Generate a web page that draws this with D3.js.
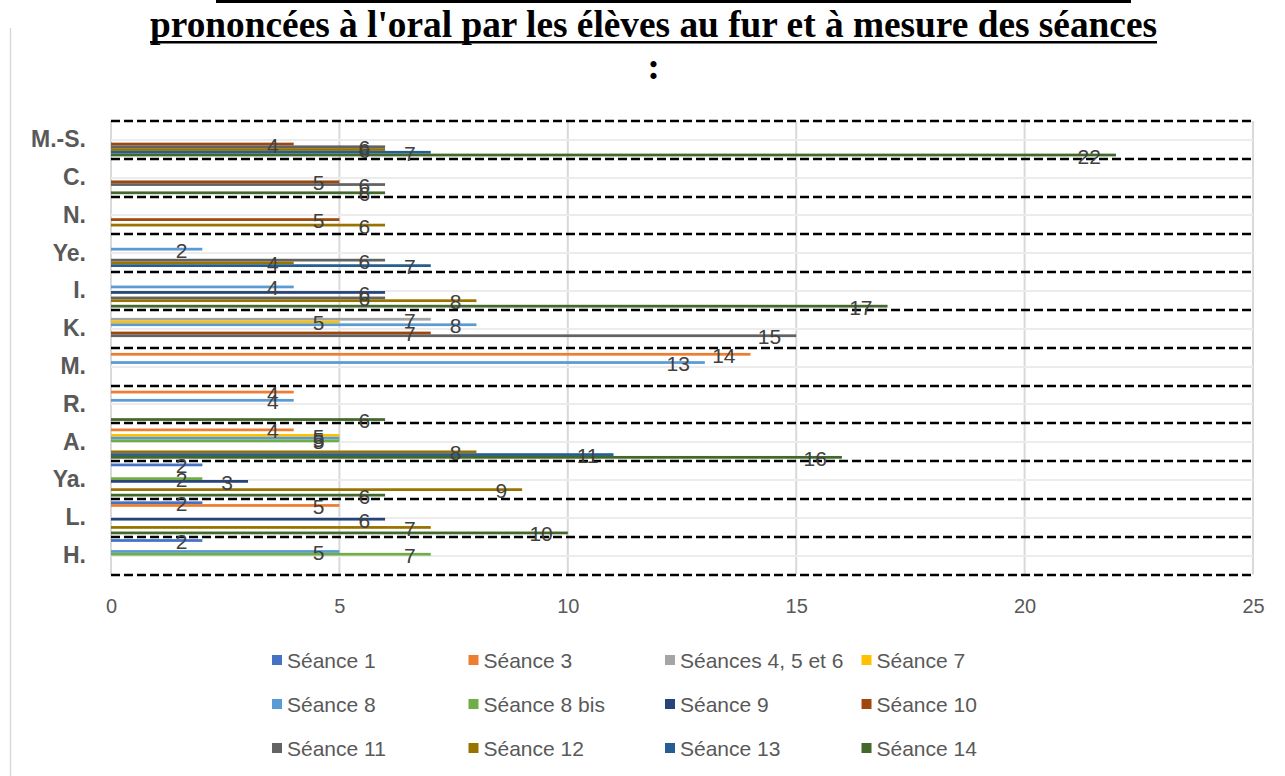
<!DOCTYPE html>
<html>
<head>
<meta charset="utf-8">
<script src="https://cdn.jsdelivr.net/npm/d3@7"></script>
<style>
  html, body { margin: 0; padding: 0; background: #ffffff; }
  svg { display: block; }
</style>
</head>
<body>
<script>
// ---------------- DATA ----------------
const titleText = "prononcées à l'oral par les élèves au fur et à mesure des séances";
const categories = ["M.-S.", "C.", "N.", "Ye.", "I.", "K.", "M.", "R.", "A.", "Ya.", "L.", "H."];
const seriesNames = ["Séance 1", "Séance 3", "Séances 4, 5 et 6", "Séance 7", "Séance 8", "Séance 8 bis",
                     "Séance 9", "Séance 10", "Séance 11", "Séance 12", "Séance 13", "Séance 14"];
const seriesColors = ["#4472C4", "#ED7D31", "#A5A5A5", "#FFC000", "#5B9BD5", "#70AD47",
                      "#264478", "#9E480E", "#636363", "#997300", "#255E91", "#43682B"];
// values in category order: M.-S., C., N., Ye., I., K., M., R., A., Ya., L., H.
const seance1   = [null, null, null, null, null, null, null, null, null, 2, 2, 2];
const seance3   = [null, null, null, null, null, null, 14, 4, 4, null, 5, null];
const seance456 = [null, null, null, null, null, 7, null, null, null, null, null, null];
const seance7   = [null, null, null, null, null, 5, null, null, 5, null, null, null];
const seance8   = [null, null, null, 2, 4, 8, 13, 4, 5, null, null, 5];
const seance8b  = [null, null, null, null, null, null, null, null, 5, 2, null, 7];
const seance9   = [null, null, null, null, 6, null, null, null, null, 3, 6, null];
const seance10  = [4, 5, 5, null, null, 7, null, null, null, null, null, null];
const seance11  = [6, 6, null, 6, 6, 15, null, null, null, null, null, null];
const seance12  = [6, null, 6, 4, 8, null, null, null, 8, 9, 7, null];
const seance13  = [7, null, null, 7, null, null, null, null, 11, null, null, null];
const seance14  = [22, 6, null, null, 17, null, null, 6, 16, 6, 10, null];
const xTicks = [0, 5, 10, 15, 20, 25];

const seriesValues = [seance1, seance3, seance456, seance7, seance8, seance8b,
                      seance9, seance10, seance11, seance12, seance13, seance14];

// ---------------- LAYOUT ----------------
const W = 1285, H = 776;
const svg = d3.select("body").append("svg").attr("width", W).attr("height", H);

const x = d3.scaleLinear().domain([0, 25]).range([111, 1253]);
const y = d3.scaleBand().domain(categories).range([121, 574.5]).padding(0);
const ySub = d3.scaleBand().domain(seriesNames).range([0, y.bandwidth()])
  .paddingInner(0).paddingOuter(0.88);
const color = d3.scaleOrdinal().domain(seriesNames).range(seriesColors);

const txtFont = "'Liberation Sans', Arial, sans-serif";

// chart area left border
svg.append("line").attr("x1", 10.5).attr("x2", 10.5).attr("y1", 28).attr("y2", H)
  .attr("stroke", "#d9d9d9").attr("stroke-width", 1.5);

// top cut underline of previous title line
svg.append("rect").attr("x", 216).attr("y", 0).attr("width", 915).attr("height", 3).attr("fill", "#000");

// title
svg.append("text").attr("x", 150).attr("y", 37)
  .attr("font-family", "'Liberation Serif', 'Times New Roman', serif")
  .attr("font-weight", "bold").attr("font-size", 38)
  .attr("textLength", 1007).attr("lengthAdjust", "spacingAndGlyphs")
  .attr("fill", "#000").text(titleText);
svg.append("rect").attr("x", 150).attr("y", 41).attr("width", 1007).attr("height", 2.5).attr("fill", "#000");
svg.append("text").attr("x", 653.5).attr("y", 79).attr("text-anchor", "middle")
  .attr("font-family", "'Liberation Serif', 'Times New Roman', serif")
  .attr("font-weight", "bold").attr("font-size", 38).attr("fill", "#000").text(":");

// vertical gridlines
svg.append("g").selectAll("line").data(xTicks).join("line")
  .attr("x1", d => x(d)).attr("x2", d => x(d))
  .attr("y1", y.range()[0]).attr("y2", y.range()[1])
  .attr("stroke", "#d9d9d9").attr("stroke-width", 2);

// light horizontal lines at category centres
svg.append("g").selectAll("line").data(categories).join("line")
  .attr("x1", x(0)).attr("x2", x(25))
  .attr("y1", d => Math.round(y(d) + y.bandwidth() / 2)).attr("y2", d => Math.round(y(d) + y.bandwidth() / 2))
  .attr("stroke", "#ececec").attr("stroke-width", 2);

// bars
const barData = [];
seriesNames.forEach((s, si) => {
  categories.forEach((c, ci) => {
    const v = seriesValues[si][ci];
    if (v !== null && v !== undefined) barData.push({ s, c, v });
  });
});

svg.append("g").selectAll("rect").data(barData).join("rect")
  .attr("x", x(0))
  .attr("y", d => y(d.c) + ySub(d.s))
  .attr("width", d => x(d.v) - x(0))
  .attr("height", ySub.bandwidth())
  .attr("fill", d => color(d.s));

// dashed category boundaries
const boundaries = categories.map(c => y(c)).concat([y.range()[1]]);
svg.append("g").selectAll("line").data(boundaries).join("line")
  .attr("x1", x(0)).attr("x2", x(25))
  .attr("y1", d => Math.round(d)).attr("y2", d => Math.round(d))
  .attr("stroke", "#000").attr("stroke-width", 2.5)
  .attr("stroke-dasharray", "9,4");

// data labels
svg.append("g").selectAll("text").data(barData).join("text")
  .attr("x", d => x(d.v) - 15)
  .attr("y", d => y(d.c) + ySub(d.s) + ySub.bandwidth() / 2 + 1)
  .attr("text-anchor", "end").attr("dominant-baseline", "central")
  .attr("font-family", txtFont).attr("font-size", 21).attr("fill", "#404040")
  .text(d => d.v);

// x axis
const xAxis = svg.append("g").attr("transform", `translate(0,${y.range()[1]})`)
  .call(d3.axisBottom(x).tickValues(xTicks).tickSize(0).tickPadding(24));
xAxis.select(".domain").remove();
xAxis.selectAll("text").attr("font-family", txtFont).attr("font-size", 20).attr("fill", "#595959");

// y axis
const yAxis = svg.append("g").attr("transform", `translate(${x(0)},0)`)
  .call(d3.axisLeft(y).tickSize(0).tickPadding(25));
yAxis.select(".domain").remove();
yAxis.selectAll("text").attr("font-family", txtFont).attr("font-size", 23)
  .attr("font-weight", "bold").attr("fill", "#595959");

// legend
const legend = svg.append("g").selectAll("g").data(seriesNames).join("g")
  .attr("transform", (d, i) => `translate(${272 + (i % 4) * 196.5},${660 + Math.floor(i / 4) * 44})`);
legend.append("rect").attr("x", 0).attr("y", -5).attr("width", 10).attr("height", 10)
  .attr("fill", d => color(d));
legend.append("text").attr("x", 15).attr("y", 0).attr("dominant-baseline", "central")
  .attr("font-family", txtFont).attr("font-size", 21).attr("fill", "#595959")
  .text(d => d);
</script>
</body>
</html>
